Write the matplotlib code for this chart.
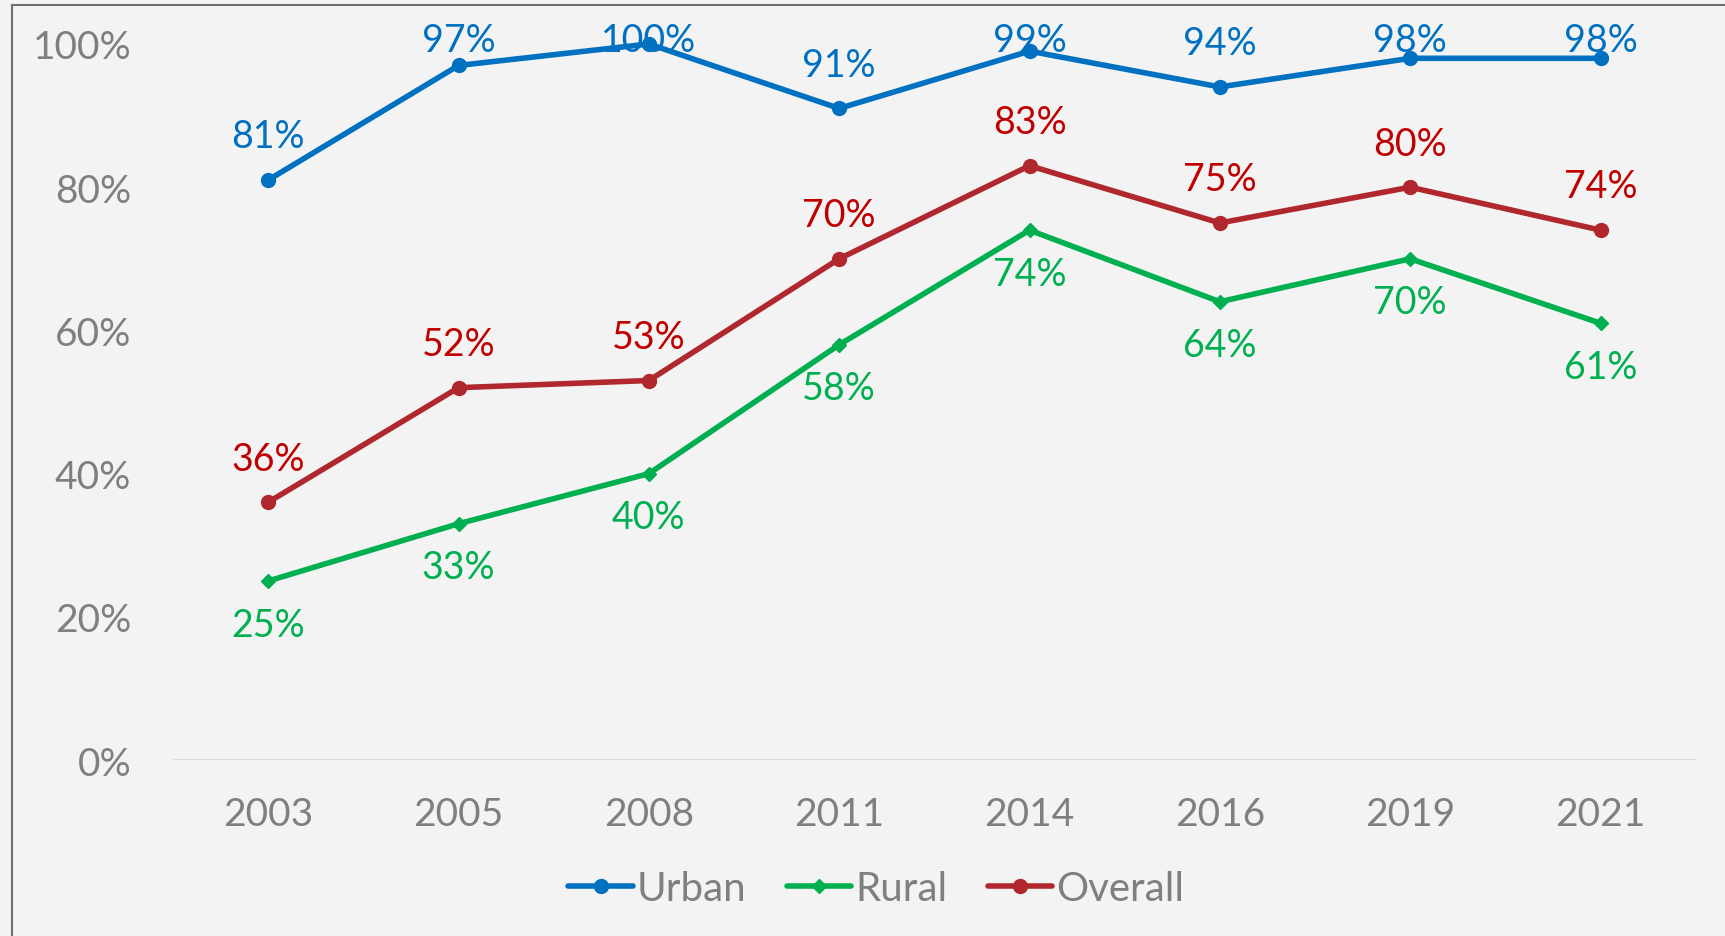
import matplotlib.pyplot as plt
from matplotlib.lines import Line2D

years = ['2003', '2005', '2008', '2011', '2014', '2016', '2019', '2021']
urban = [81, 97, 100, 91, 99, 94, 98, 98]
rural = [25, 33, 40, 58, 74, 64, 70, 61]
overall = [36, 52, 53, 70, 83, 75, 80, 74]

plt.rcParams['font.family'] = ['Lato', 'DejaVu Sans']

fig = plt.figure(figsize=(17.25, 9.37), dpi=100)
fig.patch.set_facecolor('#f3f3f3')
ax = fig.add_axes([0.1003, 0.1878, 0.8827, 0.7642])
ax.set_facecolor('none')

x = list(range(len(years)))
series = [
    ('Urban', urban, '#0070c0', '#0070c0', 'o', 10, 1),
    ('Rural', rural, '#00b050', '#00b050', 'D', 7, -1),
    ('Overall', overall, '#b0272d', '#c00000', 'o', 10, 1),
]

for name, vals, col, lcol, mk, ms, side in series:
    ax.plot(x, vals, color=col, lw=4, marker=mk, markersize=ms, label=name,
            solid_capstyle='round', clip_on=False, zorder=3)
    for xi, v in zip(x, vals):
        # labels kept inside the chart area, like the original does near the top
        ly = min(v + 6.1 * side, 100.6)
        ax.text(xi, ly, '{0}%'.format(v), ha='center', va='center',
                fontsize=27, color=lcol, zorder=4)

ax.set_xlim(-0.5, len(years) - 0.5)
ax.set_ylim(0, 100)
ax.set_xticks(x)
ax.set_xticklabels(years)
ax.set_yticks(range(0, 101, 20))
ax.set_yticklabels(['{0}%'.format(v) for v in range(0, 101, 20)])
ax.tick_params(length=0, labelsize=28, labelcolor='#7f7f7f')
ax.tick_params(axis='x', pad=26)
ax.tick_params(axis='y', pad=30)
for s in ax.spines.values():
    s.set_visible(False)
ax.axhline(0, color='#d9d9d9', lw=1.5, zorder=1)

# outer frame (left and top edges)
fig.add_artist(Line2D([12 / 1725, 12 / 1725], [0, 1 - 6 / 937],
                      transform=fig.transFigure, color='#6f6f6f', lw=1.5))
fig.add_artist(Line2D([12 / 1725, 1], [1 - 6 / 937, 1 - 6 / 937],
                      transform=fig.transFigure, color='#6f6f6f', lw=1.5))

leg = fig.legend(loc='center', bbox_to_anchor=(0.508, 0.051), ncol=3, frameon=False,
                 fontsize=29, handlelength=1.6, handletextpad=0.1, columnspacing=1.0)
for t in leg.get_texts():
    t.set_color('#7f7f7f')

fig.savefig('out.png', dpi=100, facecolor=fig.get_facecolor())
